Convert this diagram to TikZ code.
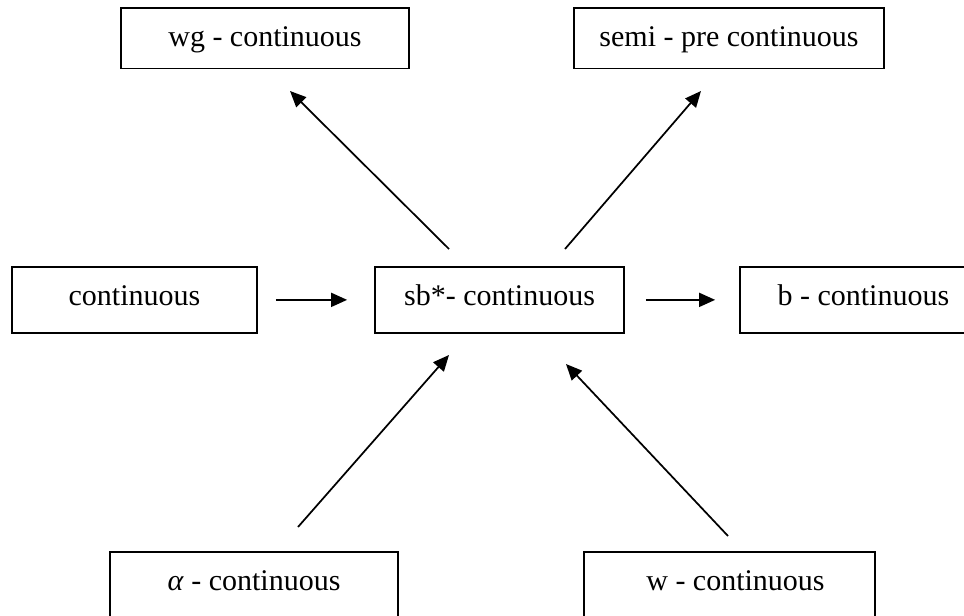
\documentclass[tikz,border=0pt]{standalone}
\usepackage{fontspec}
\setmainfont{Liberation Serif}
\usetikzlibrary{arrows.meta}
\tikzset{
  box/.style={draw, line width=1.3pt, anchor=north, inner xsep=0pt, inner ysep=0pt,
    text height=29pt, font=\fontsize{22.5}{27}\selectfont},
  toprow/.style={box, text depth=16.5pt},
  midrow/.style={box, text depth=20.5pt},
  lowrow/.style={box, text depth=60pt},
  arr/.style={line width=1.3pt, -{Triangle[length=12pt, width=10.5pt]}}
}
\begin{document}
\begin{tikzpicture}[x=0.75pt, y=-0.75pt]
  \clip (0,0) rectangle (964,615);
  % boxes
  \node[toprow, minimum width=288*0.75pt] (wg)   at (265,7)     {wg - continuous};
  \node[toprow, minimum width=310*0.75pt] (semi) at (729,7)     {semi - pre continuous};
  \node[midrow, minimum width=245*0.75pt] (cont) at (134.5,266) {continuous};
  \node[midrow, minimum width=249*0.75pt] (sb)   at (499.5,266) {sb*- continuous};
  \node[midrow, minimum width=300*0.75pt] (b)    at (890,266)   {\hspace*{-40pt}b - continuous};
  \node[lowrow, minimum width=288*0.75pt] (alpha) at (254,551)  {\textit{α} - continuous};
  \node[lowrow, minimum width=291*0.75pt] (w)    at (729.5,551) {\hspace*{9pt}w - continuous};
  % free ends of the slanted arrows
  \coordinate (sbUL) at (449,249);
  \coordinate (wgTip) at (290,91);
  \coordinate (sbUR) at (565,249);
  \coordinate (semiTip) at (701,91);
  \coordinate (alphaTail) at (298,527);
  \coordinate (sbLL) at (449,355);
  \coordinate (wTail) at (728,536);
  \coordinate (sbLR) at (566,364);
  % connectors
  \draw[arr, shorten <=13.5pt, shorten >=20.25pt] (cont) -- (sb);
  \draw[arr, shorten <=15.75pt, shorten >=18pt] (sb) -- (b);
  \draw[arr] (sbUL) -- (wgTip);
  \draw[arr] (sbUR) -- (semiTip);
  \draw[arr] (alphaTail) -- (sbLL);
  \draw[arr] (wTail) -- (sbLR);
\end{tikzpicture}
\end{document}
